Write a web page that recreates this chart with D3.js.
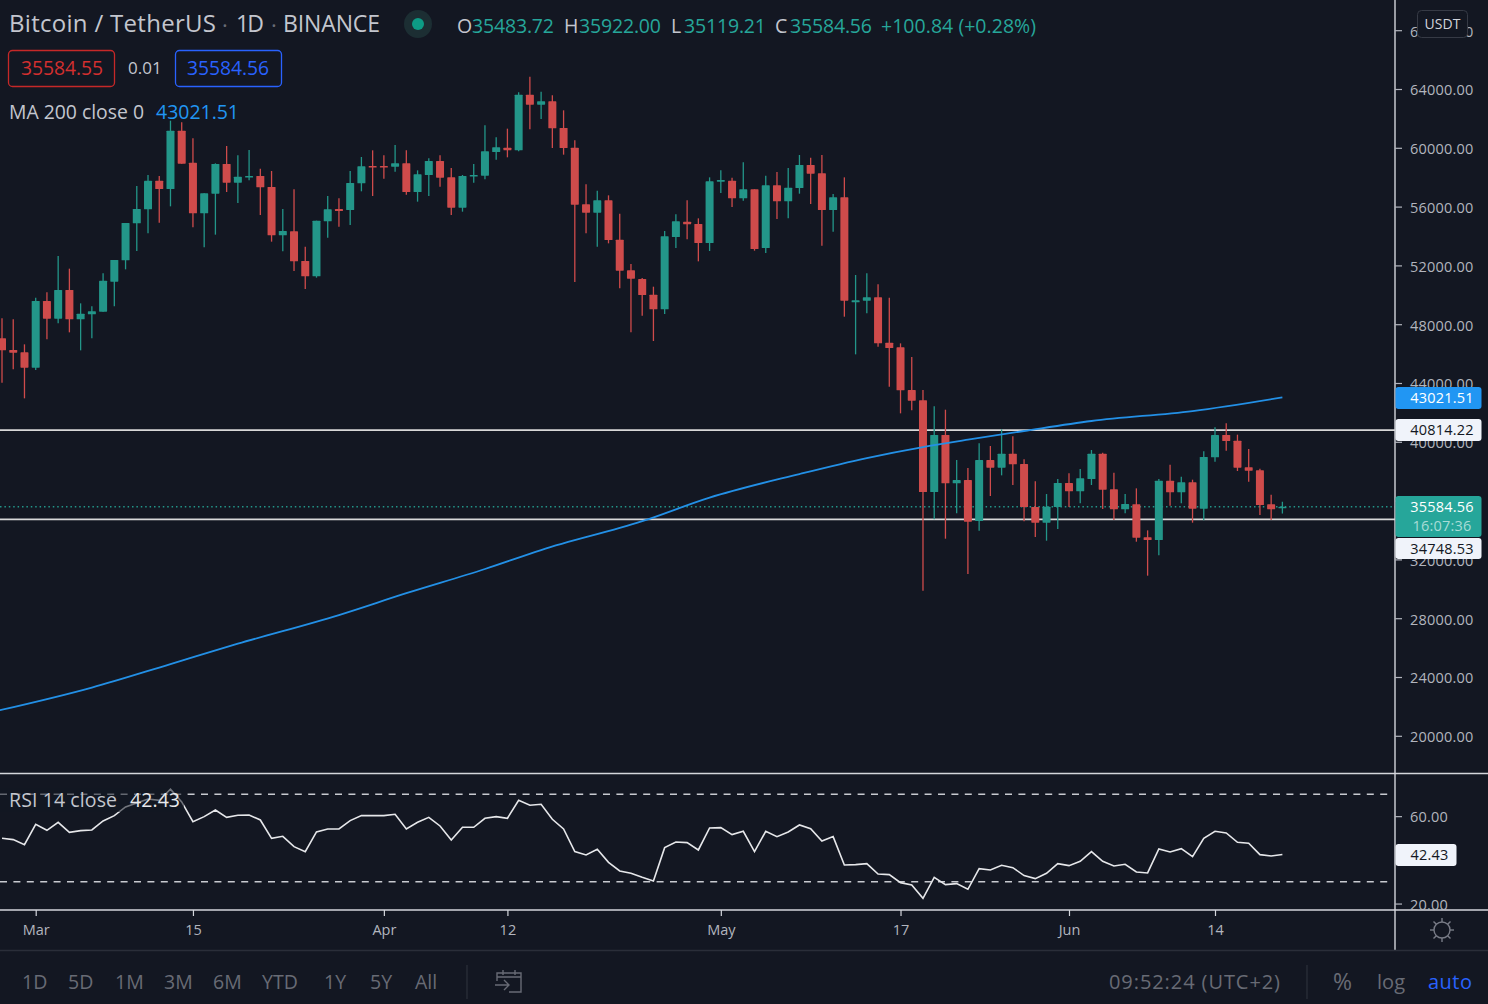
<!DOCTYPE html>
<html>
<head>
<meta charset="utf-8">
<title>BTCUSDT 1D</title>
<script src="https://cdnjs.cloudflare.com/ajax/libs/d3/7.8.5/d3.min.js"></script>
<style>
  html, body { margin: 0; background: #131722; overflow: hidden; }
  text { font-family: "Open Sans", "Noto Sans", sans-serif; }
</style>
</head>
<body>
<svg id="chart" width="1488" height="1004"></svg>
<script>
// daily candles, 26 Feb 2021 to 20 Jun 2021
const startDay = new Date(Date.UTC(2021, 1, 26));
const opens = [47038,46244,46086,45042,49578,48376,50326,48331,48671,48852,
  50893,52344,54862,55814,57764,57197,61166,58989,55542,56880,
  58898,57628,57991,58082,57333,54045,54317,52299,51256,54998,
  55837,55769,57583,58762,58762,58717,58943,56993,58150,59102,
  57991,55927,58059,58104,59714,60009,59828,63615,62935,63161,
  61347,60009,56154,55587,56426,53750,51664,51074,50008,49010,
  53931,54974,54815,53523,57695,57763,56562,57174,53183,57446,
  56357,57265,58829,58262,55768,56630,49486,49600,49826,46742,
  46425,43522,42819,36583,40461,37173,37399,34611,38760,38239,
  39191,38488,35563,34497,35563,37196,36629,37468,39191,36765,
  35404,35744,33499,33318,37354,36561,37241,35450,38942,40461,
  40076,38262,38057,35744,35484];
const highs = [48399,48331,46630,49805,50167,52639,51778,49419,49215,51460,
  52367,54884,57401,58150,58082,61846,61733,60644,56903,58943,
  60123,59488,59851,58581,58422,55837,57175,53274,55043,56721,
  56562,58422,59374,59828,59488,60191,59828,58467,59284,59488,
  58626,58150,58898,61529,60712,61302,63774,64839,63819,63570,
  62549,60508,57515,57084,56766,55519,52095,51143,50552,54339,
  55473,56425,55201,57990,58466,57967,59011,57174,58104,58353,
  58625,59510,59328,59510,56856,57990,51346,51459,50711,49804,
  46697,45767,43522,42411,42184,38760,38216,39894,39713,40847,
  40371,38806,37309,36447,37468,37853,38148,39441,39259,37899,
  36447,36833,33976,37468,38443,37627,37423,39350,40983,41255,
  40484,39509,38171,36402,35922];
const lows = [44022,44929,42956,44884,46970,48058,47446,46222,47038,48852,
  49215,51732,52979,54181,54907,56018,58921,54589,53229,54091,
  56993,56245,57787,55429,53614,52957,51619,50394,51165,53886,
  54635,54748,57039,56721,57900,58377,56812,56336,56721,57356,
  55429,55655,57628,57855,59193,59352,59760,61256,61959,59987,
  59533,50870,54181,53274,53501,50440,47446,48580,46856,48693,
  53183,53772,52276,52979,56924,55972,56403,53001,52843,55156,
  55201,56879,56176,53341,54294,48511,45949,48738,46470,43749,
  41935,42139,29871,34724,33408,35132,31005,33953,36311,37717,
  37060,34588,33522,33273,34066,35563,35812,37060,35427,34679,
  35132,33205,30892,32275,35654,35812,34497,34656,38647,39395,
  38012,37286,35019,34679,35119];
const closes = [46222,46063,45042,49578,48376,50326,48331,48716,48875,50961,
  52367,54884,55837,57764,57197,61166,58921,55542,56903,58898,
  57628,58036,58082,57311,54045,54340,52276,51256,55043,55814,
  55701,57606,58739,58671,58671,58943,56993,58195,59102,57968,
  55927,58082,58150,59760,60032,59828,63615,62935,63161,61325,
  59987,56131,55587,56426,53728,51641,51097,49986,49010,53976,
  54997,54793,53523,57718,57809,56562,57174,53115,57446,56357,
  57287,58829,58240,55768,56630,49600,49622,49826,46697,46380,
  43500,42797,36583,40461,37173,37399,34565,38760,38239,39191,
  38466,35563,34497,35586,37196,36629,37513,39191,36742,35404,
  35767,33477,33318,37354,36561,37241,35450,38965,40461,40053,
  38239,38035,35699,35404,35585];

// MA 200, read at these candle numbers
const maDays = [-1,8,15,21,30,36,43,48,57,63,71,77,82,86,91,97,106,114];
const maValues = [21597,23284,24883,26263,28216,29699,31346,32638,34597,36203,
  37808,38897,39645,40142,40734,41414,42094,43021.51];

// RSI 14, one per candle
const rsiValues = [49.86,49.25,46.96,56.27,53.52,57.19,52.61,53.37,53.68,57.80,
  60.24,64.2,66.0,67.85,67.2,72.3,66.5,57.49,59.78,62.83,
  59.47,60.39,60.54,58.25,49.86,50.78,46.05,43.76,52.76,54.13,
  54.13,57.95,60.24,60.24,60.24,60.85,54.13,57.19,59.47,55.51,
  49.10,54.90,54.90,59.02,59.78,59.02,67.25,64.97,65.42,58.56,
  54.13,43.76,42.23,44.83,38.88,34.91,33.84,32.01,30.34,45.59,
  48.18,47.88,44.52,54.59,54.74,51.54,53.07,43.76,53.07,50.63,
  52.76,55.96,54.29,48.64,50.63,37.66,37.81,38.27,33.54,33.23,
  29.57,28.50,22.40,32.01,28.66,29.12,26.52,35.98,35.37,37.51,
  36.44,32.78,31.40,33.84,38.27,37.35,39.34,43.76,39.34,37.20,
  37.96,34.45,34.00,44.98,43.61,45.13,41.47,49.86,53.07,52.30,
  48.03,47.57,42.39,41.78,42.43];

const priceTicks = [20000,24000,28000,32000,36000,40000,44000,48000,52000,56000,60000,64000,68000];
const rsiTicks = [20, 60];
const rsiBands = [70, 30];
const hLevels = [40814.22, 34748.53];
const lastPrice = 35584.56;
const maLast = 43021.51;
const rsiLast = 42.43;
const timeTicks = [[2021,2,1],[2021,2,15],[2021,3,1],[2021,3,12],[2021,4,1],[2021,4,17],[2021,5,1],[2021,5,14]];
const timeLabels = ["Mar","15","Apr","12","May","17","Jun","14"];
const rangeButtons = ["1D","5D","1M","3M","6M","YTD","1Y","5Y","All"];
const rangeX = [22,68,115,164,213,262,324,370,415];

const GREEN = "#239689", RED = "#cf4b4b", BG = "#131722";
const LINE = "#d4d6dc", AXIS_TEXT = "#b2b5be", TITLE_TEXT = "#c3c6ce", DIM = "#686b75";
const PANE_R = 1395;

const svg = d3.select("#chart");
svg.append("rect").attr("width", 1488).attr("height", 1004).attr("fill", BG);

const dayOf = i => d3.utcDay.offset(startDay, i);
const x = d3.scaleUtc()
  .domain([new Date(Date.UTC(2021, 2, 1)), new Date(Date.UTC(2021, 5, 14))])
  .range([35.7, 1215]);
const y = d3.scaleLinear().domain([20000, 64000]).range([735.8, 89]);
const yRsi = d3.scaleLinear().domain([30, 70]).range([881.7, 794.3]);

const clipMain = svg.append("clipPath").attr("id", "clip-main");
clipMain.append("rect").attr("width", PANE_R).attr("height", 773);

const main = svg.append("g").attr("clip-path", "url(#clip-main)");

// horizontal levels and last price dots sit under the candles
main.selectAll("line.level").data(hLevels).enter().append("line")
  .attr("class", "level")
  .attr("x1", 0).attr("x2", PANE_R)
  .attr("y1", d => y(d) + 0.3).attr("y2", d => y(d) + 0.3)
  .attr("stroke", "#d8d8d8").attr("stroke-width", 1.7);

main.append("line")
  .attr("x1", 0).attr("x2", PANE_R)
  .attr("y1", y(lastPrice)).attr("y2", y(lastPrice))
  .attr("stroke", GREEN).attr("stroke-width", 1.5)
  .attr("stroke-dasharray", "1.5 2.9");

const candles = d3.range(opens.length).map(i => ({
  day: dayOf(i), o: opens[i], h: highs[i], l: lows[i], c: closes[i]
}));
const color = d => d.c >= d.o ? GREEN : RED;

main.selectAll("line.wick").data(candles).enter().append("line")
  .attr("class", "wick")
  .attr("x1", d => x(d.day)).attr("x2", d => x(d.day))
  .attr("y1", d => y(d.h)).attr("y2", d => y(d.l))
  .attr("stroke", color).attr("stroke-width", 1.3);

main.selectAll("rect.body").data(candles).enter().append("rect")
  .attr("class", "body")
  .attr("x", d => x(d.day) - 4)
  .attr("width", 8)
  .attr("y", d => y(Math.max(d.o, d.c)))
  .attr("height", d => Math.max(1.6, Math.abs(y(d.o) - y(d.c))))
  .attr("rx", 0.6)
  .attr("fill", color);

const maLine = d3.line().x(d => x(dayOf(d[0]))).y(d => y(d[1])).curve(d3.curveMonotoneX);
main.append("path")
  .attr("d", maLine(maDays.map((d, i) => [d, maValues[i]])))
  .attr("fill", "none").attr("stroke", "#2390e6").attr("stroke-width", 1.8);

// RSI pane
svg.selectAll("line.band").data(rsiBands).enter().append("line")
  .attr("class", "band")
  .attr("x1", 0).attr("x2", PANE_R - 6)
  .attr("y1", d => yRsi(d)).attr("y2", d => yRsi(d))
  .attr("stroke", "#c8cad0").attr("stroke-width", 1.4)
  .attr("stroke-dasharray", "7 6.4");

const rsiLine = d3.line().x((d, i) => x(dayOf(i))).y(d => yRsi(d));
svg.append("path")
  .attr("d", rsiLine(rsiValues))
  .attr("fill", "none").attr("stroke", "#e6e7ea").attr("stroke-width", 1.6);

// legend backing dims what runs behind it
svg.append("rect").attr("x", 0).attr("y", 788).attr("width", 184).attr("height", 24)
  .attr("fill", BG).attr("opacity", 0.55);

// frame lines
svg.append("line").attr("x1", 0).attr("x2", 1488).attr("y1", 773.5).attr("y2", 773.5)
  .attr("stroke", LINE).attr("stroke-width", 1.4);
svg.append("line").attr("x1", 0).attr("x2", 1488).attr("y1", 910).attr("y2", 910)
  .attr("stroke", LINE).attr("stroke-width", 1.4);
svg.append("line").attr("x1", PANE_R).attr("x2", PANE_R).attr("y1", 0).attr("y2", 950)
  .attr("stroke", LINE).attr("stroke-width", 1.4);
svg.append("line").attr("x1", 0).attr("x2", 1488).attr("y1", 950.5).attr("y2", 950.5)
  .attr("stroke", "#2a2e39").attr("stroke-width", 1.4);

// price axis
function styleAxis(g) {
  g.select(".domain").remove();
  g.selectAll(".tick line").attr("stroke", AXIS_TEXT).attr("stroke-width", 1.2);
  g.selectAll(".tick text").attr("fill", AXIS_TEXT).attr("dy", "0.4em")
    .style("font-size", "14.5px").style("letter-spacing", "0.2px");
}
svg.append("g")
  .attr("transform", `translate(${PANE_R},0)`)
  .call(d3.axisRight(y).tickValues(priceTicks).tickSize(7).tickPadding(8).tickFormat(d3.format(".2f")))
  .call(styleAxis);

const yRsiAxis = d3.axisRight(yRsi).tickValues(rsiTicks).tickSize(7).tickPadding(8).tickFormat(d3.format(".2f"));
svg.append("g")
  .attr("transform", `translate(${PANE_R},0)`)
  .call(yRsiAxis)
  .call(styleAxis);

// time axis
const timeDates = timeTicks.map(d => new Date(Date.UTC(d[0], d[1], d[2])));
svg.append("g")
  .attr("transform", "translate(0,910)")
  .call(d3.axisBottom(x).tickValues(timeDates).tickSize(6).tickPadding(9).tickFormat((d, i) => timeLabels[i]))
  .call(g => {
    g.select(".domain").remove();
    g.selectAll(".tick line").attr("stroke", LINE).attr("stroke-width", 1.2);
    g.selectAll(".tick text").attr("fill", AXIS_TEXT).style("font-size", "14.5px");
  });

// price tags on the right
function priceTag(top, bottom, width, fill, textFill, label, textY, sub) {
  svg.append("rect").attr("x", PANE_R + 0.5).attr("y", top)
    .attr("width", width).attr("height", bottom - top).attr("rx", 3)
    .attr("fill", fill);
  svg.append("text").attr("x", PANE_R + width / 2 + 4).attr("y", textY)
    .attr("dy", "0.38em").attr("text-anchor", "middle")
    .attr("fill", textFill).style("font-size", "14.5px").style("letter-spacing", "0.2px")
    .text(label);
  if (sub) {
    svg.append("text").attr("x", PANE_R + width / 2 + 4).attr("y", textY + 19)
      .attr("dy", "0.38em").attr("text-anchor", "middle")
      .attr("fill", "#a8dcd6").style("font-size", "14.5px").style("letter-spacing", "0.2px")
      .text(sub);
  }
}
const fmt = d3.format(".2f");
priceTag(387, 409, 86, "#2196f3", "#ffffff", fmt(maLast), y(maLast));
priceTag(419, 441, 86, "#f0f3fa", "#131722", fmt(hLevels[0]), y(hLevels[0]));
priceTag(496, 537, 86, "#26a69a", "#ffffff", fmt(lastPrice), y(lastPrice), "16:07:36");
priceTag(538, 559, 86, "#f0f3fa", "#131722", fmt(hLevels[1]), 548);
priceTag(844, 866, 61, "#f0f3fa", "#131722", fmt(rsiLast), yRsi(rsiLast));

// currency box
svg.append("rect").attr("x", 1417.5).attr("y", 10.5).attr("width", 50).attr("height", 27).attr("rx", 4)
  .attr("fill", BG).attr("stroke", "#363a45");
svg.append("text").attr("x", 1442.5).attr("y", 24).attr("dy", "0.35em").attr("text-anchor", "middle")
  .attr("fill", "#d1d4dc").style("font-size", "14px").text("USDT");

// header
function label(xPos, yPos, str, fill, size, anchor, width) {
  const t = svg.append("text").attr("x", xPos).attr("y", yPos).attr("dy", "0.35em")
    .attr("text-anchor", anchor || "start").attr("fill", fill)
    .style("font-size", size + "px").text(str);
  if (width) t.attr("textLength", width);
  return t;
}
label(9, 24, "Bitcoin / TetherUS", TITLE_TEXT, 24, "start", 207);
label(222, 25, "·", DIM, 22);
label(236, 24, "1D", TITLE_TEXT, 23, "start", 28);
label(271, 25, "·", DIM, 22);
label(283, 24, "BINANCE", TITLE_TEXT, 23, "start", 97);
svg.append("circle").attr("cx", 418).attr("cy", 24).attr("r", 14).attr("fill", "#1c2e33");
svg.append("circle").attr("cx", 418).attr("cy", 24).attr("r", 6).attr("fill", "#0d9b85");

const ohlcKeys = ["O", "H", "L", "C"];
const ohlcKeyX = [457, 564, 671, 775];
const ohlcVals = ["35483.72", "35922.00", "35119.21", "35584.56"];
const ohlcValX = [472, 579, 684, 790];
ohlcKeys.forEach((k, i) => {
  label(ohlcKeyX[i], 26, k, TITLE_TEXT, 19.5);
  label(ohlcValX[i], 26, ohlcVals[i], "#26a69a", 19.5, "start", 82);
});
label(881, 26, "+100.84 (+0.28%)", "#26a69a", 19.5, "start", 155);

svg.append("rect").attr("x", 8.5).attr("y", 50.5).attr("width", 106).attr("height", 36).attr("rx", 4)
  .attr("fill", "none").attr("stroke", "#c62828").attr("stroke-width", 1.3);
label(21, 68, "35584.55", "#d32f2f", 19.3, "start", 82);
label(128, 68, "0.01", TITLE_TEXT, 17);
svg.append("rect").attr("x", 175.5).attr("y", 50.5).attr("width", 106).attr("height", 36).attr("rx", 4)
  .attr("fill", "none").attr("stroke", "#2962ff").attr("stroke-width", 1.3);
label(187, 68, "35584.56", "#2962ff", 19.3, "start", 82);

label(9, 112, "MA 200 close 0", TITLE_TEXT, 19.4, "start", 135);
label(156, 112, "43021.51", "#2196f3", 19.5, "start", 83);
label(9, 800, "RSI 14 close", TITLE_TEXT, 19.5, "start", 108);
label(130, 800, "42.43", "#e8e9ec", 19.5, "start", 50);

// bottom toolbar
rangeButtons.forEach((b, i) => label(rangeX[i], 982, b, DIM, 19.5));
svg.append("line").attr("x1", 467).attr("x2", 467).attr("y1", 965).attr("y2", 999)
  .attr("stroke", "#2a2e39").attr("stroke-width", 1.3);
svg.append("path")
  .attr("d", "M497 981v-8h24v19h-12M497 977h24M503 970v5M515 970v5M495 985h14M504 980l5 5-5 5")
  .attr("fill", "none").attr("stroke", DIM).attr("stroke-width", 1.4);
label(1109, 982, "09:52:24 (UTC+2)", DIM, 20, "start", 171);
svg.append("line").attr("x1", 1307).attr("x2", 1307).attr("y1", 965).attr("y2", 999)
  .attr("stroke", "#2a2e39").attr("stroke-width", 1.3);
label(1333, 982, "%", DIM, 23);
label(1377, 982, "log", DIM, 20, "start", 28);
label(1428, 982, "auto", "#2962ff", 20, "start", 44);

// settings sun
const gear = svg.append("g").attr("transform", "translate(1442,930)")
  .attr("stroke", "#787b86").attr("fill", "none").attr("stroke-width", 1.4);
gear.append("circle").attr("r", 8);
d3.range(8).forEach(i => {
  const a = i * Math.PI / 4;
  gear.append("line")
    .attr("x1", 8 * Math.cos(a)).attr("y1", 8 * Math.sin(a))
    .attr("x2", 12 * Math.cos(a)).attr("y2", 12 * Math.sin(a));
});
</script>
</body>
</html>
